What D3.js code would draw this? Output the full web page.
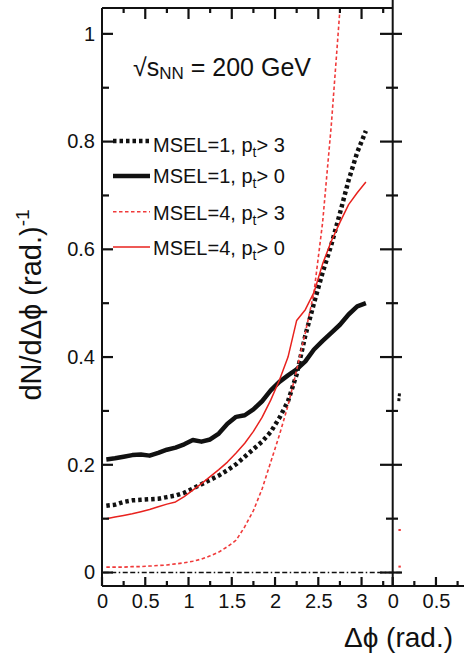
<!DOCTYPE html>
<html>
<head>
<meta charset="utf-8">
<script src="https://cdn.jsdelivr.net/npm/d3@7"></script>
<style>
  body { margin: 0; background: #fff; }
  svg text { font-family: "Liberation Sans", Arial, Helvetica, sans-serif; fill: #111; }
</style>
</head>
<body>
<div class="chart"></div>
<script>
// DATA
var dphi = [0.05, 0.15, 0.25, 0.35, 0.45, 0.55, 0.65, 0.75, 0.85, 0.95, 1.05, 1.15, 1.25, 1.35, 1.45, 1.55,
            1.65, 1.75, 1.85, 1.95, 2.05, 2.15, 2.25, 2.35, 2.45, 2.55, 2.65, 2.75, 2.85, 2.95, 3.05];

var msel1_pt3 = [0.124, 0.126, 0.131, 0.134, 0.135, 0.136, 0.137, 0.140, 0.143, 0.148, 0.156, 0.164, 0.172, 0.180, 0.190, 0.201,
                 0.215, 0.229, 0.243, 0.261, 0.287, 0.318, 0.368, 0.440, 0.500, 0.557, 0.608, 0.667, 0.728, 0.780, 0.820];
var msel1_pt0 = [0.210, 0.212, 0.215, 0.218, 0.219, 0.217, 0.222, 0.228, 0.232, 0.238, 0.246, 0.243, 0.247, 0.258, 0.276, 0.289,
                 0.292, 0.303, 0.318, 0.338, 0.354, 0.366, 0.377, 0.392, 0.414, 0.430, 0.445, 0.460, 0.479, 0.494, 0.500];
var msel4_pt3 = [0.010, 0.010, 0.010, 0.011, 0.011, 0.012, 0.013, 0.014, 0.016, 0.018, 0.021, 0.025, 0.031, 0.038, 0.048, 0.060,
                 0.085, 0.115, 0.155, 0.205, 0.255, 0.310, 0.376, 0.445, 0.520, 0.650, 0.830, 1.045];
var msel4_pt0 = [0.100, 0.103, 0.106, 0.109, 0.113, 0.117, 0.122, 0.127, 0.131, 0.141, 0.153, 0.165, 0.178, 0.191, 0.205, 0.222,
                 0.240, 0.262, 0.288, 0.320, 0.357, 0.400, 0.468, 0.488, 0.520, 0.573, 0.615, 0.650, 0.683, 0.705, 0.725];

// FIRST BINS OF THE SECOND (CUT OFF) PANEL
var panel2_x = [0.07, 0.08];
var panel2_msel1_pt3 = [0.318, 0.336];
var panel2_msel4_pt0 = [0.079];
var panel2_msel4_pt3 = [0.011];

var yMajor = [0, 0.2, 0.4, 0.6, 0.8, 1];
var yMinor = [0.1, 0.3, 0.5, 0.7, 0.9];
var xMajor = [0, 0.5, 1, 1.5, 2, 2.5, 3];
var xMinor = [0.25, 0.75, 1.25, 1.75, 2.25, 2.75, 3.25];
var x2Major = [0, 0.5];
var x2Minor = [0.25, 0.75];

var legendLabels = [["MSEL=1, p", "t", "> 3"], ["MSEL=1, p", "t", "> 0"], ["MSEL=4, p", "t", "> 3"], ["MSEL=4, p", "t", "> 0"]];

// SIZES
var W = 464, H = 653;
var padL = 102, padR = 392.7, padT = 8, padB = 586;

var svg = d3.select(".chart").append("svg")
    .attr("width", W)
    .attr("height", H);

// SCALES
var x = d3.scaleLinear().domain([0, 3.36]).range([padL, padR]);
var x2 = d3.scaleLinear().domain([0, 3.36]).range([padR, padR + (padR - padL)]);
var y = d3.scaleLinear().domain([-0.025, 1.048]).range([padB, padT]);

// STYLES PER SERIES
var styles = [
    { color: "#111", width: 4.5, dash: "3.5,3" },
    { color: "#111", width: 4.5, dash: null },
    { color: "#f03a3a", width: 1.6, dash: "3.5,2.5" },
    { color: "#e8221e", width: 1.5, dash: null }
];
var series = [msel1_pt3, msel1_pt0, msel4_pt3, msel4_pt0];

// CLIP FOR MAIN PANEL
var defs = svg.append("defs");
defs.append("clipPath").attr("id", "clipMain")
    .append("rect").attr("x", padL).attr("y", padT).attr("width", padR - padL).attr("height", padB - padT);

// ZERO LINE (DASH-DOT)
svg.append("line")
    .attr("x1", x(0.02)).attr("x2", x2(0.09))
    .attr("y1", y(0)).attr("y2", y(0))
    .attr("stroke", "#111").attr("stroke-width", 1.4)
    .attr("stroke-dasharray", "5,2.5,5,2.5,1.5,2.5");

// CURVES
var curveLine = d3.line()
    .x(function(d){ return x(d[0]); })
    .y(function(d){ return y(d[1]); })
    .curve(d3.curveLinear);

var curveg = svg.append("g").attr("clip-path", "url(#clipMain)");
series.forEach(function(s, i){
    var pts = s.map(function(v, j){ return [dphi[j], v]; });
    curveg.append("path")
        .datum(pts)
        .attr("d", curveLine)
        .attr("fill", "none")
        .attr("stroke", styles[i].color)
        .attr("stroke-width", styles[i].width)
        .attr("stroke-dasharray", styles[i].dash)
        .attr("stroke-linejoin", "round");
});

// SECOND PANEL BITS
var line2 = d3.line()
    .x(function(d){ return x2(d[0]); })
    .y(function(d){ return y(d[1]); });
svg.append("path")
    .datum(panel2_msel1_pt3.map(function(v, j){ return [panel2_x[j], v]; }))
    .attr("d", line2)
    .attr("fill", "none").attr("stroke", "#111").attr("stroke-width", 3)
    .attr("stroke-dasharray", "3,2");
svg.selectAll(".p2red")
    .data(panel2_msel4_pt0.concat(panel2_msel4_pt3))
    .enter().append("rect")
    .attr("class", "p2red")
    .attr("x", x2(0.08) - 1.2)
    .attr("y", function(d){ return y(d) - 1; })
    .attr("width", 2.4).attr("height", 2)
    .attr("fill", "#f03a3a");

// TICK LABELS (AXIS, NO TICK LINES)
var fmt = function(d){ return d3.format("")(d); };

function styleAxis(g){
    g.select(".domain").remove();
    g.selectAll(".tick line").remove();
    g.selectAll(".tick text").style("font-size", "20px").attr("fill", "#111");
}

svg.append("g").attr("transform", "translate(0," + padB + ")")
    .call(d3.axisBottom(x).tickValues(xMajor).tickSize(0).tickPadding(8).tickFormat(fmt))
    .call(styleAxis);
svg.append("g").attr("transform", "translate(0," + padB + ")")
    .call(d3.axisBottom(x2).tickValues(x2Major).tickSize(0).tickPadding(8).tickFormat(fmt))
    .call(styleAxis);
svg.append("g").attr("transform", "translate(" + padL + ",0)")
    .call(d3.axisLeft(y).tickValues(yMajor).tickSize(0).tickPadding(7).tickFormat(fmt))
    .call(styleAxis);

// TICK MARKS
var tickg = svg.append("g").attr("class", "tickmarks");

function xTicks(scale, vals, yPos, len){
    tickg.selectAll(null).data(vals).enter().append("line")
        .attr("x1", function(d){ return scale(d); })
        .attr("x2", function(d){ return scale(d); })
        .attr("y1", yPos).attr("y2", yPos + len)
        .attr("stroke", "#111").attr("stroke-width", 2.2);
}
function yTicks(vals, xPos, l1, l2){
    tickg.selectAll(null).data(vals).enter().append("line")
        .attr("y1", function(d){ return y(d); })
        .attr("y2", function(d){ return y(d); })
        .attr("x1", xPos - l1).attr("x2", xPos + l2)
        .attr("stroke", "#111").attr("stroke-width", 2.2);
}

xTicks(x, xMajor, padB, -9);
xTicks(x, xMinor, padB, -5);
xTicks(x2, x2Major, padB, -9);
xTicks(x2, x2Minor, padB, -5);
xTicks(x, xMajor.slice(1), padT, 11);
xTicks(x, xMinor, padT, 5);
yTicks(yMajor, padL, 0, 11);
yTicks(yMinor, padL, 0, 7);
yTicks(yMajor, padR, 12.7, 9.3);
yTicks(yMinor, padR, 6.7, 5.3);

// FRAME
var frame = svg.append("g").attr("stroke", "#111").attr("stroke-width", 2).attr("fill", "none");
frame.append("line").attr("x1", padL).attr("x2", padL).attr("y1", padT).attr("y2", padB);
frame.append("line").attr("x1", padL).attr("x2", padR).attr("y1", padT).attr("y2", padT);
frame.append("line").attr("x1", padL).attr("x2", W).attr("y1", padB).attr("y2", padB);
frame.append("line").attr("x1", padR).attr("x2", padR).attr("y1", 0).attr("y2", padB);

// AXIS TITLES
var ytitle = svg.append("text")
    .attr("transform", "translate(41,305) rotate(-90)")
    .attr("text-anchor", "middle")
    .style("font-size", "29px");
ytitle.append("tspan").text("dN/d\u0394\u03d5 (rad.)");
ytitle.append("tspan").attr("dy", -12).style("font-size", "19px").text("-1");

svg.append("text")
    .attr("x", 453).attr("y", 647)
    .attr("text-anchor", "end")
    .style("font-size", "28px")
    .text("\u0394\u03d5 (rad.)");

// ENERGY LABEL
var elab = svg.append("text").attr("x", 133).attr("y", 76).style("font-size", "25px");
elab.append("tspan").text("\u221as");
elab.append("tspan").attr("dy", 3).style("font-size", "17px").text("NN");
elab.append("tspan").attr("dy", -3).text(" = 200 GeV");

// LEGEND
var legLineY = [141, 176, 211.7, 247];
var legTextY = [151.5, 182.5, 220, 255];
var leg = svg.append("g");
legendLabels.forEach(function(lab, i){
    leg.append("line")
        .attr("x1", 113).attr("x2", 150)
        .attr("y1", legLineY[i]).attr("y2", legLineY[i])
        .attr("stroke", styles[i].color)
        .attr("stroke-width", styles[i].width)
        .attr("stroke-dasharray", styles[i].dash);
    var t = leg.append("text").attr("x", 153).attr("y", legTextY[i]).style("font-size", "20px");
    t.append("tspan").text(lab[0]);
    t.append("tspan").attr("dy", 5).style("font-size", "14px").text(lab[1]);
    t.append("tspan").attr("dy", -5).text(lab[2]);
});
</script>
</body>
</html>
